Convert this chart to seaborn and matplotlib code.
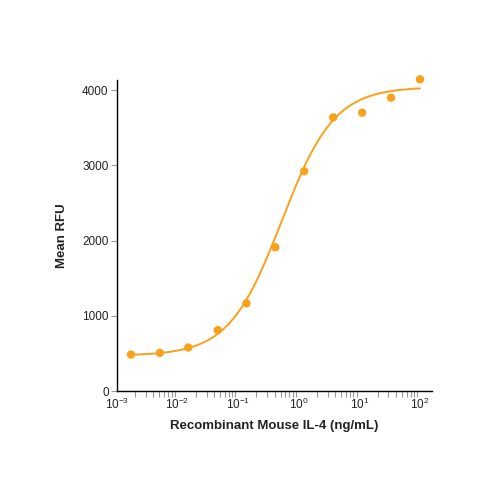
import numpy as np
import pandas as pd
import matplotlib
matplotlib.use("Agg")
import matplotlib.pyplot as plt
import seaborn as sns
from matplotlib.ticker import LogLocator, FixedLocator

# measured points (3-fold dilutions)
conc = [0.0017, 0.0051, 0.015, 0.046, 0.137, 0.41, 1.23, 3.7, 11.1, 33.3, 100]
rfu = [484, 507, 578, 809, 1164, 1911, 2920, 3636, 3698, 3898, 4142]

# 4PL fit parameters
fit_bottom = 470
fit_top = 4040
fit_ec50 = 0.52
fit_hill = 1.0

orange = "#F9A11B"

sns.set_style("ticks")
plt.rcParams["font.family"] = ["Liberation Sans", "DejaVu Sans"]
plt.rcParams["mathtext.fontset"] = "custom"
plt.rcParams["mathtext.rm"] = "Liberation Sans"

data = pd.DataFrame({"conc": conc, "rfu": rfu})
xs = np.logspace(np.log10(0.0017), 2, 300)
curve = pd.DataFrame({
    "conc": xs,
    "rfu": fit_bottom + (fit_top - fit_bottom) / (1 + (fit_ec50 / xs) ** fit_hill),
})

fig = plt.figure(figsize=(5, 5), dpi=100)
ax = fig.add_axes([0.234, 0.218, 0.63, 0.622])

sns.lineplot(data=curve, x="conc", y="rfu", color=orange, lw=1.4, ax=ax)
sns.scatterplot(data=data, x="conc", y="rfu", color=orange, s=36,
                edgecolor="none", ax=ax, zorder=3, clip_on=False)

ax.set_xscale("log")
ax.set_xlim(1e-3, 158)
ax.set_ylim(0, 4133)
ax.set_yticks([0, 1000, 2000, 3000, 4000])
ax.set_yticklabels(["0", "1000", "2000", "3000", "4000"])
ax.xaxis.set_major_locator(FixedLocator([1e-3, 1e-2, 1e-1, 1, 10, 100]))
ax.set_xticklabels(["10$^{\\mathrm{-3}}$", "10$^{\\mathrm{-2}}$", "10$^{\\mathrm{-1}}$",
                    "10$^{\\mathrm{0}}$", "10$^{\\mathrm{1}}$", "10$^{\\mathrm{2}}$"])
ax.xaxis.set_minor_locator(LogLocator(base=10, subs=np.arange(2, 10), numticks=20))

ax.tick_params(axis="both", which="both", color="#999999", length=4, width=0.8,
               labelsize=8.5, pad=2, labelcolor="#222222")
ax.tick_params(axis="x", which="major", length=0, pad=4)
ax.tick_params(axis="x", which="minor", length=4)

for s in ["top", "right"]:
    ax.spines[s].set_visible(False)
for s in ["left", "bottom"]:
    ax.spines[s].set_color("black")
    ax.spines[s].set_linewidth(1.0)

ax.set_xlabel("Recombinant Mouse IL-4 (ng/mL)", fontsize=9.5, fontweight="bold",
              labelpad=6, color="#222222")
ax.set_ylabel("Mean RFU", fontsize=9.5, fontweight="bold", labelpad=10, color="#222222")

fig.savefig("out.png", dpi=100)
